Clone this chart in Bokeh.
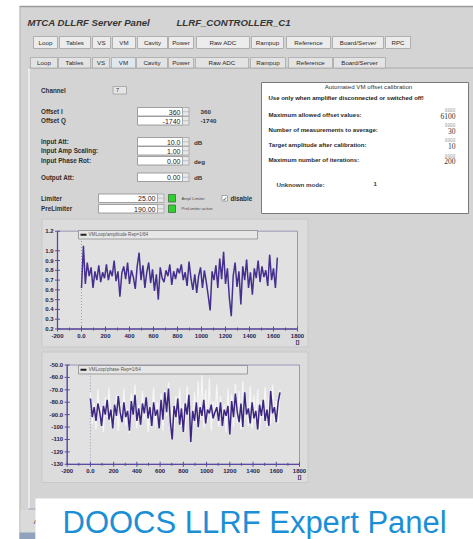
import numpy as np
from bokeh.plotting import figure
from bokeh.models import Range1d
from bokeh.core.properties import value
from bokeh.embed import file_html
from bokeh.resources import INLINE

# ---------------- data ----------------
SAMPLE_STEP = 16  # samples between plotted points

amp_values = [0.62, 1.05, 0.66, 0.88, 0.74, 0.83, 0.62, 0.79, 0.70, 0.85,
              0.68, 0.78, 0.72, 0.86, 0.70, 0.80, 0.74, 0.90, 0.69, 0.79,
              0.53, 0.77, 0.84, 0.71, 0.88, 0.66, 0.80, 0.73, 0.61, 0.84,
              0.98, 0.70, 0.85, 0.62, 0.78, 0.88, 0.67, 0.81, 0.59, 0.76,
              0.50, 0.83, 0.72, 0.68, 0.80, 0.74, 0.86, 0.65, 0.79, 0.71,
              0.82, 0.77, 0.86, 0.70, 0.78, 0.64, 0.89, 0.72, 0.60, 0.76,
              0.57, 0.74, 0.83, 0.62, 0.80, 0.68, 0.54, 0.39, 0.79, 0.70,
              0.85, 0.62, 0.92, 0.71, 0.99, 0.66, 0.82, 0.52, 0.33, 0.74,
              0.88, 0.63, 0.79, 0.45, 0.84, 0.70, 0.91, 0.62, 0.78, 0.55,
              0.82, 0.72, 0.90, 0.68, 0.84, 0.73, 0.80, 0.64, 0.96, 0.70,
              0.82, 0.62, 0.93]

phase_values = [-77, -92, -84, -95, -81, -88, -99, -83, -90, -78,
                -94, -86, -101, -82, -91, -75, -88, -96, -80, -92,
                -87, -103, -79, -90, -74, -95, -85, -98, -81, -89,
                -76, -93, -84, -99, -80, -91, -86, -101, -78, -94,
                -72, -88, -69, -96, -110, -83, -92, -77, -98, -85,
                -104, -81, -90, -74, -112, -87, -95, -80, -100, -84,
                -91, -78, -97, -86, -89, -82, -93, -88, -84, -95,
                -80, -99, -86, -91, -83, -106, -79, -92, -73, -88,
                -96, -81, -100, -72, -90, -85, -97, -80, -93, -87,
                -102, -82, -91, -78, -95, -86, -99, -71, -89, -84,
                -96, -80, -72]

phase_ref_values = [-72, -98, -80, -102, -70, -95, -84, -104, -76, -92,
                    -68, -100, -88, -96, -74, -103, -81, -93, -69, -99,
                    -85, -105, -73, -90, -66, -101, -82, -97, -71, -94,
                    -78, -104, -86, -92, -68, -100, -80, -96, -73, -103,
                    -70, -91, -64, -98, -84, -102, -75, -95, -69, -99,
                    -81, -104, -67, -93, -86, -100, -72, -97, -63, -94,
                    -58, -101, -70, -96, -61, -103, -79, -92, -66, -100,
                    -75, -98, -82, -104, -69, -95, -73, -100, -65, -97,
                    -71, -102, -63, -94, -78, -99, -67, -101, -74, -96,
                    -70, -103, -80, -93, -68, -100, -76, -98, -66, -95,
                    -79, -97, -70]

x_range_vals = [-200, 1800]
x_ticks = [-200, 0, 200, 400, 600, 800, 1000, 1200, 1400, 1600, 1800]
x_tick_labels = ["-200", "0.0", "200", "400", "600", "800", "1000", "1200", "1400", "1600", "1800"]
x_unit = "[]"

amp_y_range = [0.2, 1.2]
amp_y_ticks = [1.2, 1.0, 0.9, 0.8, 0.7, 0.6, 0.5, 0.4, 0.3, 0.2]
amp_y_labels = ["1.2", "1.0", "0.9", "0.8", "0.7", "0.6", "0.5", "0.4", "0.3", "0.2"]
phase_y_range = [-130, -50]
phase_y_ticks = [-50, -60, -70, -80, -90, -100, -110, -120, -130]
phase_y_labels = ["-50.0", "-60.0", "-70.0", "-80.0", "-90.0", "-100", "-110", "-120", "-130"]

amp_legend = "VMLoop/amplitude Rep=1/64"
phase_legend = "VMLoop/phase Rep=1/64"

menu_buttons = ["Loop", "Tables", "VS", "VM", "Cavity", "Power", "Raw ADC", "Rampup",
                "Reference", "Board/Server", "RPC"]
tab_labels = ["Loop", "Tables", "VS", "VM", "Cavity", "Power", "Raw ADC", "Rampup",
              "Reference", "Board/Server"]
selected_tab = "VM"

form_rows = ["Offset I", "Offset Q", "Input Att:", "Input Amp Scaling:", "Input Phase Rot:", "Output Att:"]
form_values = ["360", "-1740", "10.0", "1.00", "0.00", "0.00"]
form_readback = ["360", "-1740", "dB", "", "deg", "dB"]
limit_rows = ["Limiter", "PreLimiter"]
limit_values = ["25.00", "190.00"]
limit_status = ["Ampl Limiter", "PreLimiter active"]

calib_title = "Automated VM offset calibration"
calib_warning = "Use only when amplifier disconnected or switched off!"
calib_items = ["Maximum allowed offset values:", "Number of measurements to average:",
               "Target amplitude after calibration:", "Maximum number of iterations:"]
calib_values = ["6100", "30", "10", "200"]

caption = "DOOCS LLRF Expert Panel"

# ---------------- layout (page pixel coordinates) ----------------
W, H = 473, 539
FONT = value("Liberation Sans")
p = figure(width=W, height=H, x_range=Range1d(0, W), y_range=Range1d(H, 0),
           output_backend="svg", toolbar_location=None, min_border=0,
           x_axis_type=None, y_axis_type=None)
p.grid.visible = False
p.outline_line_color = None
p.background_fill_color = "white"
p.border_fill_color = "white"


def box(l, r, t, b, fill, line=None, lw=1.0):
    p.quad(left=[l], right=[r], top=[t], bottom=[b], fill_color=fill,
           line_color=line, line_width=lw)


def label(x, y, s, size=6.3, color="#2e2e2e", align="left", style="bold",
          font=FONT, baseline="middle"):
    p.text(x=[x], y=[y], text=[s], text_font=font, text_font_size=value(f"{size}px"),
           text_font_style=style, text_color=color, text_align=align,
           text_baseline=baseline)


PANEL = "#d4d4d4"
# main application panel
box(19, 480, 6, 545, PANEL)
p.segment(x0=[19], y0=[6], x1=[480], y1=[6], line_color="#9a9a9a", line_width=1.5)
p.segment(x0=[19.5], y0=[6], x1=[19.5], y1=[545], line_color="#b8b8b8", line_width=1)

# title
label(27, 21.5, "MTCA DLLRF Server Panel", size=9.6, color="#363636", style="bold italic")
label(176, 21.5, "LLRF_CONTROLLER_C1", size=9.6, color="#363636", style="bold italic")

# top menu buttons
row1 = [(33, 57), (59, 90), (92, 110), (112, 135), (137, 167), (168, 193), (196, 249),
        (251, 283), (286, 330), (332, 383), (385, 410)]
for (l, r), name in zip(row1, menu_buttons):
    box(l, r, 36, 48, "#ececec", "#a2a2a2", 0.8)
    label((l + r) / 2, 42.2, name, size=6.2, color="#2a2a2a", align="center", style="normal")

# tab row
row2 = [(30, 57), (58, 90), (92, 109), (111, 135), (136, 167), (168, 193), (195, 248),
        (250, 285), (288, 332), (333, 385)]
p.segment(x0=[28], y0=[67.5], x1=[480], y1=[67.5], line_color="#a8a8a8", line_width=1)
for (l, r), name in zip(row2, tab_labels):
    sel = name == selected_tab
    box(l, r, 57, 67.5, "#dfe7ef" if sel else "#e3e3e3", "#a8a8a8", 0.8)
    label((l + r) / 2, 62.4, name, size=6.2, color="#2a2a2a", align="center", style="normal")
# tab content border
p.segment(x0=[28.5], y0=[67.5], x1=[28.5], y1=[508], line_color="#eef0f4", line_width=1.5)
p.segment(x0=[28], y0=[508.5], x1=[480], y1=[508.5], line_color="#9aa6bb", line_width=1.2)
box(20, 480, 509.5, 545, "#dadada")
box(19, 35, 532, 545, "#8fa3bd")
label(33, 521, "A", size=6, color="#555555")

# channel selector
label(40.5, 89.5, "Channel", size=6.3)
box(112.5, 126, 86, 93.5, "#e6e6e6", "#a0a0a0", 0.8)
label(115.5, 89.8, "7", size=5.5, style="normal")

# numeric input rows
row_y = [(107, 115.5), (116, 124.5), (137, 145.5), (146, 154.5), (156, 164.5), (172.5, 181)]
for (t, b), name, val, rb in zip(row_y, form_rows, form_values, form_readback):
    yc = (t + b) / 2
    label(40.5, yc, name, size=6.3)
    box(137, 182, t, b, "white", "#8c8c8c", 0.8)
    box(182, 188.5, t, b, "#e8e8e8", "#9c9c9c", 0.7)
    p.segment(x0=[182], y0=[yc], x1=[188.5], y1=[yc], line_color="#a8a8a8", line_width=0.6)
    label(180, yc + 0.3, val, size=7, color="#222222", style="normal", align="right")
    if rb:
        label(200 if rb[0] in "-0123456789" else 193.5, yc + 0.3, rb, size=6.2, color="#333333")

lim_y = [(193.5, 202), (204, 212.5)]
for (t, b), name, val, st in zip(lim_y, limit_rows, limit_values, limit_status):
    yc = (t + b) / 2
    label(40.5, yc, name, size=6.3)
    box(98, 157, t, b, "white", "#8c8c8c", 0.8)
    box(157, 163.5, t, b, "#e8e8e8", "#9c9c9c", 0.7)
    p.segment(x0=[157], y0=[yc], x1=[163.5], y1=[yc], line_color="#a8a8a8", line_width=0.6)
    label(155, yc + 0.3, val, size=7, color="#222222", style="normal", align="right")
    box(168, 175, t + 0.5, b - 0.5, "#2fd02f", "#3a6e3a", 0.8)
    label(181, yc, st, size=4.2, color="#4a4a4a", style="normal")
box(221.5, 227, 195, 200.5, "white", "#8a8a8a", 0.7)
label(222, 197.6, "\u2713", size=6, color="#333333", style="normal", font=value("DejaVu Sans"))
label(230, 197.6, "disable", size=6.3)

# calibration box
box(261, 468, 82, 213, "white", "#7a7a7a", 1)
label(368, 86.3, calib_title, size=6.2, color="#333333", align="center", style="normal")
label(268, 97, calib_warning, size=6.0, color="#222222", style="bold")
for yc, item, val in zip([113.5, 128.5, 143.5, 159], calib_items, calib_values):
    label(268, yc, item, size=6.1, color="#2a2a2a", style="bold")
    label(455, yc - 3.8, "0000", size=4.5, color="#a0a0a0", align="right", style="normal",
          font=value("Liberation Mono"))
    label(455, yc + 1.8, val, size=7.5, color="#333333", align="right", style="normal",
          font=value("Liberation Serif"))
label(276, 183.5, "Unknown mode:", size=6.2, color="#3a3a3a")
label(373, 183.5, "1", size=6.2, color="#3a3a3a")

# ---------------- the two plots ----------------
AXIS = "#5a4b9e"
TICKTXT = "#1e1e50"


def draw_plot(outer, xt, yt, y_range, y_ticks, y_labels, legend_box, legend_text, series):
    l, r, t, b = outer
    box(l, r, t, b, "#dcdcdc", "#c6c8cc", 1)
    sub = p.subplot(x_source=Range1d(*x_range_vals), y_source=Range1d(*y_range),
                    x_target=Range1d(*xt), y_target=Range1d(*yt))
    x0, x1 = x_range_vals
    y0, y1 = y_range
    sub.quad(left=[x0], right=[x1], bottom=[y0], top=[y1], fill_color="#e1e1e1",
             line_color="#8a84ad", line_width=0.8)
    sub.segment(x0=[0], y0=[y0], x1=[0], y1=[y1], line_color="#8888a8",
                line_dash="1 2", line_width=0.8)
    for xs, ys, color, lw in series:
        sub.line(x=xs, y=ys, line_color=color, line_width=lw)
    sub.segment(x0=[x0, x0], y0=[y0, y0], x1=[x0, x1], y1=[y1, y0],
                line_color=AXIS, line_width=1.3)
    minors = [(a + c) / 2 for a, c in zip(x_ticks[:-1], x_ticks[1:])]
    sub.scatter(x=x_ticks, y=[y0] * len(x_ticks), marker="dash", size=5, angle=np.pi / 2,
                line_color=AXIS, line_width=1)
    sub.scatter(x=minors, y=[y0] * len(minors), marker="dash", size=3, angle=np.pi / 2,
                line_color=AXIS, line_width=1)
    sub.scatter(x=[x0] * len(y_ticks), y=y_ticks, marker="dash", size=5,
                line_color=AXIS, line_width=1)
    sub.text(x=x_ticks, y=[y0] * len(x_ticks), text=x_tick_labels, y_offset=7,
             text_font=FONT, text_font_size=value("6px"), text_font_style="bold",
             text_color=TICKTXT, text_align="center", text_baseline="middle")
    sub.text(x=[x1], y=[y0], text=[x_unit], y_offset=13,
             text_font=FONT, text_font_size=value("5.5px"), text_font_style="bold",
             text_color=TICKTXT, text_align="center", text_baseline="middle")
    sub.text(x=[x0] * len(y_ticks), y=y_ticks, text=y_labels, x_offset=-4,
             text_font=FONT, text_font_size=value("6px"), text_font_style="bold",
             text_color=TICKTXT, text_align="right", text_baseline="middle")
    ll, lr, lt, lb = legend_box
    box(ll, lr, lt, lb, "#e6e6e6", "#8a8a8a", 0.8)
    ym = (lt + lb) / 2
    p.segment(x0=[ll + 2], y0=[ym], x1=[ll + 8], y1=[ym], line_color="#222222", line_width=1.8)
    label(ll + 10, ym + 0.2, legend_text, size=4.6, color="#555555", style="normal")


amp_x = [i * SAMPLE_STEP for i in range(len(amp_values))]
ph_x = [i * SAMPLE_STEP for i in range(len(phase_values))]
ref_x = [i * SAMPLE_STEP for i in range(len(phase_ref_values))]

draw_plot((41.5, 307.5, 218.5, 346.5), (57, 297), (328.5, 230.7), amp_y_range,
          amp_y_ticks, amp_y_labels, (78, 257, 230, 238.5), amp_legend,
          [(amp_x, amp_values, "#45308f", 1.5)])
draw_plot((41.5, 307.5, 351.5, 482), (66.7, 299), (463.8, 364.5), phase_y_range,
          phase_y_ticks, phase_y_labels, (78, 247, 365, 373.5), phase_legend,
          [(ref_x, phase_ref_values, "#f6f6f6", 1.2), (ph_x, phase_values, "#3d2682", 1.5)])

# caption box
box(35, 480, 498, 545, "white")
label(62, 521.5, caption, size=31, color="#1b8fd6", style="normal")

open("out.html", "w").write(file_html(p, INLINE))
